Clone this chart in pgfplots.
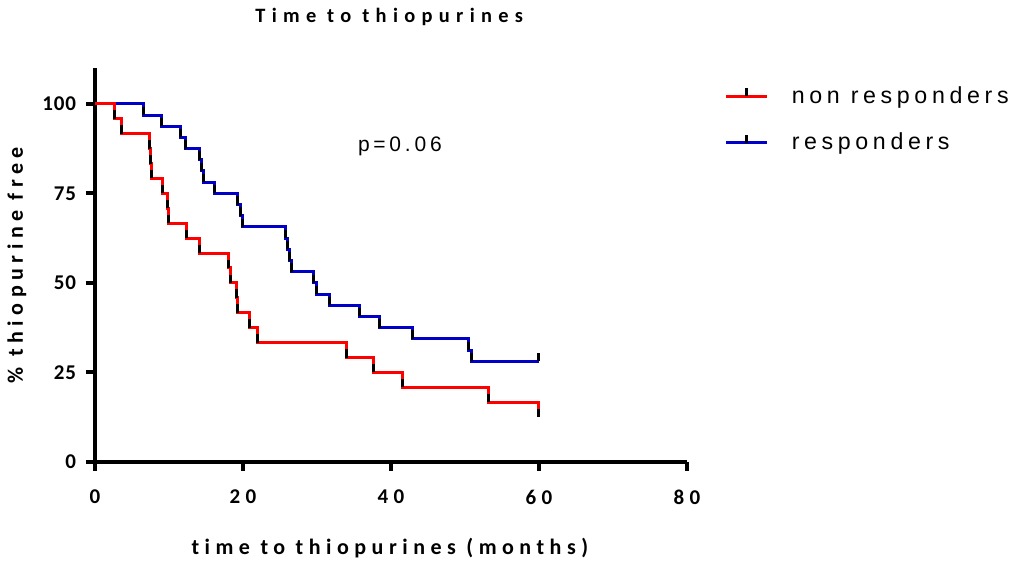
\documentclass[border=0pt]{standalone}
\usepackage{fontspec}
\usepackage{pgfplots}
\usepackage{pgfplotstable}
\pgfplotsset{compat=1.18}

\newfontfamily\titlefont[LetterSpace=31,Ligatures=NoCommon]{Carlito}
\newfontfamily\labfont[LetterSpace=25,Ligatures=NoCommon]{Carlito}
\newfontfamily\xtickfont[LetterSpace=25]{Carlito}
\newfontfamily\ytickfont[LetterSpace=4]{Carlito}
\newfontfamily\legfont[LetterSpace=20]{Liberation Sans}
\newfontfamily\pfont[LetterSpace=18]{Liberation Sans}

\definecolor{kmred}{RGB}{255,0,0}
\definecolor{kmblue}{RGB}{0,0,200}

% short upright tick drawn at each step of the survival curve
\pgfdeclareplotmark{cens}{%
  \pgfpathmoveto{\pgfqpoint{0pt}{0pt}}%
  \pgfpathlineto{\pgfqpoint{0pt}{4.2pt}}%
  \pgfusepathqstroke}

% Kaplan-Meier estimates: time (months), percent thiopurine free
\pgfplotstableread{
t s
0 100
2.6 95.83
3.6 91.67
7.3 87.5
7.45 83.33
7.6 79.17
9.1 75
9.8 70.83
10.0 66.67
12.4 62.5
14.1 58.33
18.1 54.17
18.25 50
19.1 45.83
19.25 41.67
20.85 37.5
21.9 33.33
34.05 29.17
37.7 25
41.5 20.83
53.2 16.67
60 12.5
}\nonresp

\pgfplotstableread{
t s
0 100
6.6 96.875
9.0 93.75
11.5 90.625
12.2 87.5
14.1 84.375
14.35 81.25
14.6 78.125
16.1 75
19.3 71.875
19.6 68.75
19.9 65.625
25.7 62.5
25.95 59.375
26.3 56.25
26.6 53.125
29.5 50
29.9 46.875
31.75 43.75
35.75 40.625
38.4 37.5
42.9 34.375
50.5 31.25
50.9 28.125
60 28.125
}\resp

\begin{document}
\begin{tikzpicture}
\path[use as bounding box] (-47.5pt,-49.5pt) rectangle (459pt,231pt);
\begin{axis}[
  scale only axis,
  width=296pt, height=197pt,
  xmin=0, xmax=80, ymin=0, ymax=110,
  clip=false,
  axis lines=left,
  axis line style={-, line width=2pt},
  xtick={0,20,40,60,80},
  ytick={0,25,50,75,100},
  tick align=outside,
  major tick length=4.5pt,
  tick style={line width=2pt, black},
  /pgf/number format/assume math mode=true,
  xticklabel style={font=\xtickfont\bfseries\fontsize{10.5}{12}\selectfont, yshift=-6pt},
  yticklabel style={font=\ytickfont\bfseries\fontsize{10.5}{12}\selectfont, xshift=-1.5pt},
  title={Time to thiopurines},
  title style={font=\titlefont\bfseries\fontsize{10.2}{12}\selectfont,
    at={(axis description cs:0.497,1)}, anchor=center, yshift=19.5pt},
  xlabel={time to thiopurines (months)},
  xlabel style={font=\labfont\bfseries\fontsize{11}{13}\selectfont,
    at={(axis description cs:0.498,-0.218)}, anchor=center},
  ylabel={\% thiopurine free},
  ylabel style={font=\labfont\bfseries\fontsize{11}{13}\selectfont,
    at={(axis description cs:-0.132,0.5)}, anchor=center},
  legend style={at={(axis description cs:1.053,0.975)}, anchor=north west,
    draw=none, fill=none, font=\legfont\fontsize{11.6}{13}\selectfont,
    row sep=9.5pt},
  legend cell align=left,
  reverse legend,
  legend image code/.code={%
    \draw[#1, mark=none] (0pt,0pt) -- (20.5pt,0pt);
    \draw[black, line width=1.5pt] (10.25pt,0pt) -- (10.25pt,4.2pt);
  },
  every axis legend/.append style={nodes={inner xsep=2pt}},
  /tikz/every odd column/.append style={column sep=9.5pt},
]
\addplot[const plot, kmblue, line width=1.5pt, mark=none] table[x=t, y=s] {\resp};
\addlegendentry{responders}
\addplot[only marks, mark=cens, mark options={black, line width=1.5pt}, forget plot,
  restrict x to domain=1:100] table[x=t, y=s] {\resp};
\addplot[const plot, kmred, line width=1.5pt, mark=none] table[x=t, y=s] {\nonresp};
\addlegendentry{non responders}
\addplot[only marks, mark=cens, mark options={black, line width=1.5pt}, forget plot,
  restrict x to domain=1:100] table[x=t, y=s] {\nonresp};
\node[font=\pfont\fontsize{10.5}{12}\selectfont] at (axis cs:41.2,88.2) {p=0.06};
\end{axis}
\end{tikzpicture}
\end{document}
